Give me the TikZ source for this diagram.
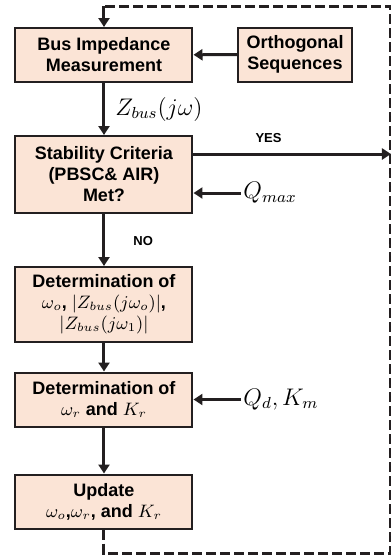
\documentclass[tikz,border=0pt]{standalone}
\usepackage{amsmath,amssymb}
\usepackage{fontspec}
\setmainfont{Liberation Sans}
\usepackage{tikz}
\usetikzlibrary{positioning,arrows.meta,calc}
\usepackage{xcolor}
\definecolor{boxfill}{RGB}{251,228,214}
\definecolor{boxline}{RGB}{35,31,32}
\tikzset{
  procbox/.style={draw=boxline,fill=boxfill,line width=1pt,minimum width=88.5pt,minimum height=27pt,
    align=center,inner sep=1pt,font=\fontsize{9}{10.5}\selectfont\bfseries},
  tinylabel/.style={font=\fontsize{6.5}{7}\selectfont\bfseries,inner sep=1pt},
  mathlabel/.style={font=\fontsize{12}{14}\selectfont,inner sep=1pt},
  every edge/.style={draw=boxline,->,>={Triangle[length=4.5pt,width=5.5pt]},line width=1.5pt},
}

\begin{document}
\begin{tikzpicture}[x=0.5pt,y=-0.5pt]
\useasboundingbox (0,0) rectangle (391,559);

\node[procbox] (bim) at (104,55) {Bus Impedance\\Measurement};
\node[procbox,minimum width=57pt] (seq) at (295,54.5) {Orthogonal\\Sequences};
\node[procbox,minimum height=38.5pt] (crit) at (104,174.5) {Stability Criteria\\(PBSC\& AIR)\\Met?};
\node[procbox,minimum height=37.5pt] (wo) at (104,304.5) {Determination of\\$\omega_o$, $|Z_{bus}(j\omega_o)|$,\\$|Z_{bus}(j\omega_1)|$};
\node[procbox] (wr) at (104,399.5) {Determination of\\$\omega_r$ and $K_r$};
\node[procbox] (upd) at (104,501.5) {Update\\$\omega_o$,$\omega_r$, and $K_r$};

\coordinate (yes) at (391,154);
\coordinate (qmax) at (241,193);
\coordinate (qd) at (241,399.5);
\coordinate (loopbr) at (391,553);
\coordinate (looptr) at (391,6);

\path
(seq) edge (bim)
(bim) edge node[mathlabel,right=4pt] {$Z_{bus}(j\omega)$} (crit)
(crit.east |- yes) edge node[tinylabel,above=4pt,pos=0.38] {YES} (yes)
(qmax) edge (qmax -| crit.east)
(crit) edge node[tinylabel,right=13pt,pos=0.52] {NO} (wo)
(wo) edge (wr)
(qd) edge (wr)
(wr) edge (upd)
(bim.north |- looptr) edge (bim);

\node[mathlabel,anchor=west] (qmaxl) at (qmax) {$Q_{max}$};
\node[mathlabel,anchor=west] (qdl) at (qd) {$Q_d, K_m$};

% feedback loop
\draw[boxline,line width=1.5pt,dash pattern=on 5pt off 2pt]
  (upd) -- (upd.south |- loopbr) -- (loopbr) -- (looptr) -- (bim.north |- looptr);

\end{tikzpicture}
\end{document}
